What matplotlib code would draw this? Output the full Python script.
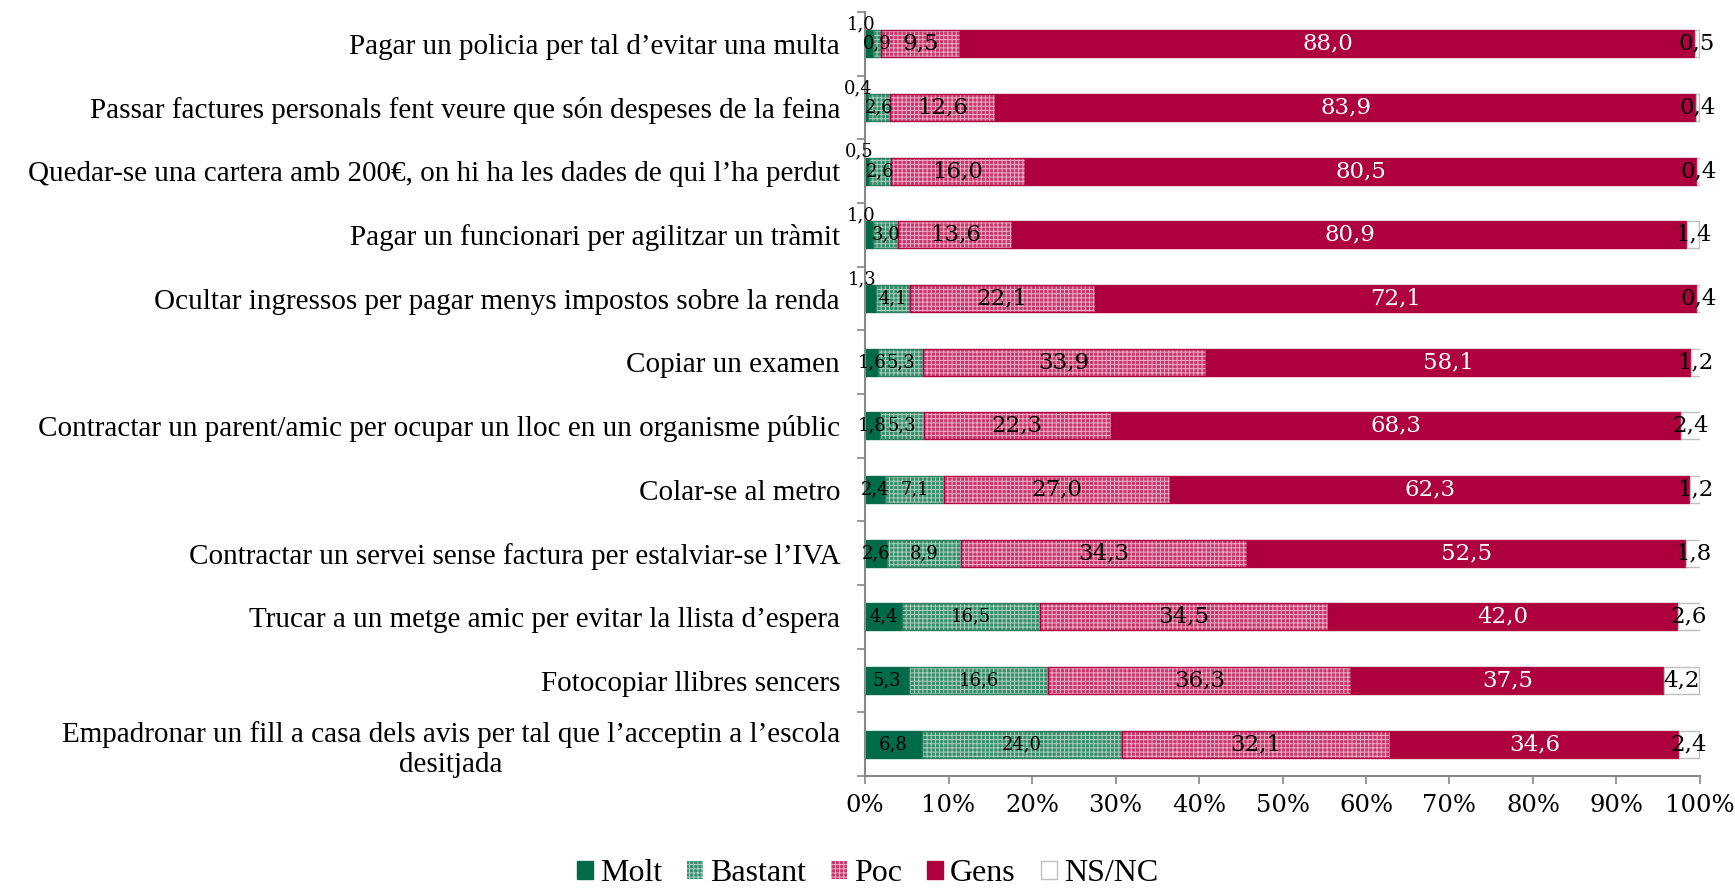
import matplotlib.pyplot as plt
from matplotlib.patches import Patch
import numpy as np

categories = [
    "Pagar un policia per tal d\u2019evitar una multa",
    "Passar factures personals fent veure que s\u00f3n despeses de la feina",
    "Quedar-se una cartera amb 200\u20ac, on hi ha les dades de qui l\u2019ha perdut",
    "Pagar un funcionari per agilitzar un tr\u00e0mit",
    "Ocultar ingressos per pagar menys impostos sobre la renda",
    "Copiar un examen",
    "Contractar un parent/amic per ocupar un lloc en un organisme p\u00fablic",
    "Colar-se al metro",
    "Contractar un servei sense factura per estalviar-se l\u2019IVA",
    "Trucar a un metge amic per evitar la llista d\u2019espera",
    "Fotocopiar llibres sencers",
    "Empadronar un fill a casa dels avis per tal que l\u2019acceptin a l\u2019escola\ndesitjada",
]
series_names = ["Molt", "Bastant", "Poc", "Gens", "NS/NC"]
molt = [1.0, 0.4, 0.5, 1.0, 1.3, 1.6, 1.8, 2.4, 2.6, 4.4, 5.3, 6.8]
bastant = [0.9, 2.6, 2.6, 3.0, 4.1, 5.3, 5.3, 7.1, 8.9, 16.5, 16.6, 24.0]
poc = [9.5, 12.6, 16.0, 13.6, 22.1, 33.9, 22.3, 27.0, 34.3, 34.5, 36.3, 32.1]
gens = [88.0, 83.9, 80.5, 80.9, 72.1, 58.1, 68.3, 62.3, 52.5, 42.0, 37.5, 34.6]
nsnc = [0.5, 0.4, 0.4, 1.4, 0.4, 1.2, 2.4, 1.2, 1.8, 2.6, 4.2, 2.4]
x_ticks = [0, 10, 20, 30, 40, 50, 60, 70, 80, 90, 100]

# face, hatch colour, edge, hatch pattern, label colour, label size
styles = [
    ("#006b48", None, "#006b48", None, "black", 13),
    ("#3a8c6c", "#a6d2c0", "#2e7d5e", "++++", "black", 13),
    ("#c43a6c", "#f2acc6", "#b0003f", "++++", "black", 16.5),
    ("#ae003f", None, "#ae003f", None, "white", 16.5),
    ("white", None, "#bfbfbf", None, "black", 16.5),
]

plt.rcParams['hatch.linewidth'] = 0.7

fig = plt.figure(figsize=(17.35, 8.89), dpi=100)
ax = fig.add_axes([0.4986, 0.1271, 0.9798 - 0.4986, 0.9865 - 0.1271])

y = np.arange(len(categories))
h = 0.42
data = [molt, bastant, poc, gens, nsnc]
left = np.zeros(len(categories))
for i, vals in enumerate(data):
    face, hcol, edge, hatch, tcol, tsize = styles[i]
    vals = np.array(vals)
    if hatch:
        ax.barh(y, vals, h, left=left, color=face, edgecolor=hcol, hatch=hatch, linewidth=0)
        ax.barh(y, vals, h, left=left, fill=False, edgecolor=edge, linewidth=1.0)
    else:
        ax.barh(y, vals, h, left=left, color=face, edgecolor=edge, linewidth=1.0)
    for j, v in enumerate(vals):
        txt = f"{v:.1f}".replace(".", ",")
        cx = left[j] + v / 2
        if i == 0 and j < 5:
            ax.annotate(txt, (cx, y[j]), xytext=(-6, 14), textcoords="offset points",
                        ha="center", va="center", fontsize=tsize, color=tcol,
                        family="DejaVu Serif")
        else:
            ax.text(cx, y[j], txt, ha="center", va="center", fontsize=tsize,
                    color=tcol, family="DejaVu Serif")
    left += vals

ax.set_xlim(0, 100)
ax.set_ylim(len(categories) - 0.5, -0.5)
ax.set_xticks(x_ticks)
ax.set_xticklabels([f"{v}%" for v in x_ticks], family="DejaVu Serif", fontsize=17.5)
ax.set_yticks(y)
ax.set_yticklabels(categories, family="Liberation Serif", fontsize=21, multialignment="center")
ax.set_yticks(np.arange(-0.5, len(categories)), minor=True)
ax.tick_params(axis="y", which="major", length=0, pad=18)
ax.tick_params(axis="y", which="minor", length=6, color="#888888", width=1.2)
ax.tick_params(axis="x", length=6, color="#888888", width=1.2, pad=7)
for s in ["top", "right"]:
    ax.spines[s].set_visible(False)
for s in ["left", "bottom"]:
    ax.spines[s].set_color("#888888")
    ax.spines[s].set_linewidth(1.5)

handles = []
for i, name in enumerate(series_names):
    face, hcol, edge, hatch, _, _ = styles[i]
    if hatch:
        handles.append(Patch(facecolor=face, edgecolor=hcol, hatch=hatch, linewidth=0, label=name))
    else:
        handles.append(Patch(facecolor=face, edgecolor=edge, linewidth=1.0, label=name))
fig.legend(handles=handles, loc="center", bbox_to_anchor=(0.5, 0.017), ncol=5, frameon=False,
           prop={"family": "Liberation Serif", "size": 23}, handlelength=0.5, handleheight=0.5,
           handletextpad=0.22, columnspacing=0.78, borderpad=0.0)

fig.savefig("out.png", dpi=100)
